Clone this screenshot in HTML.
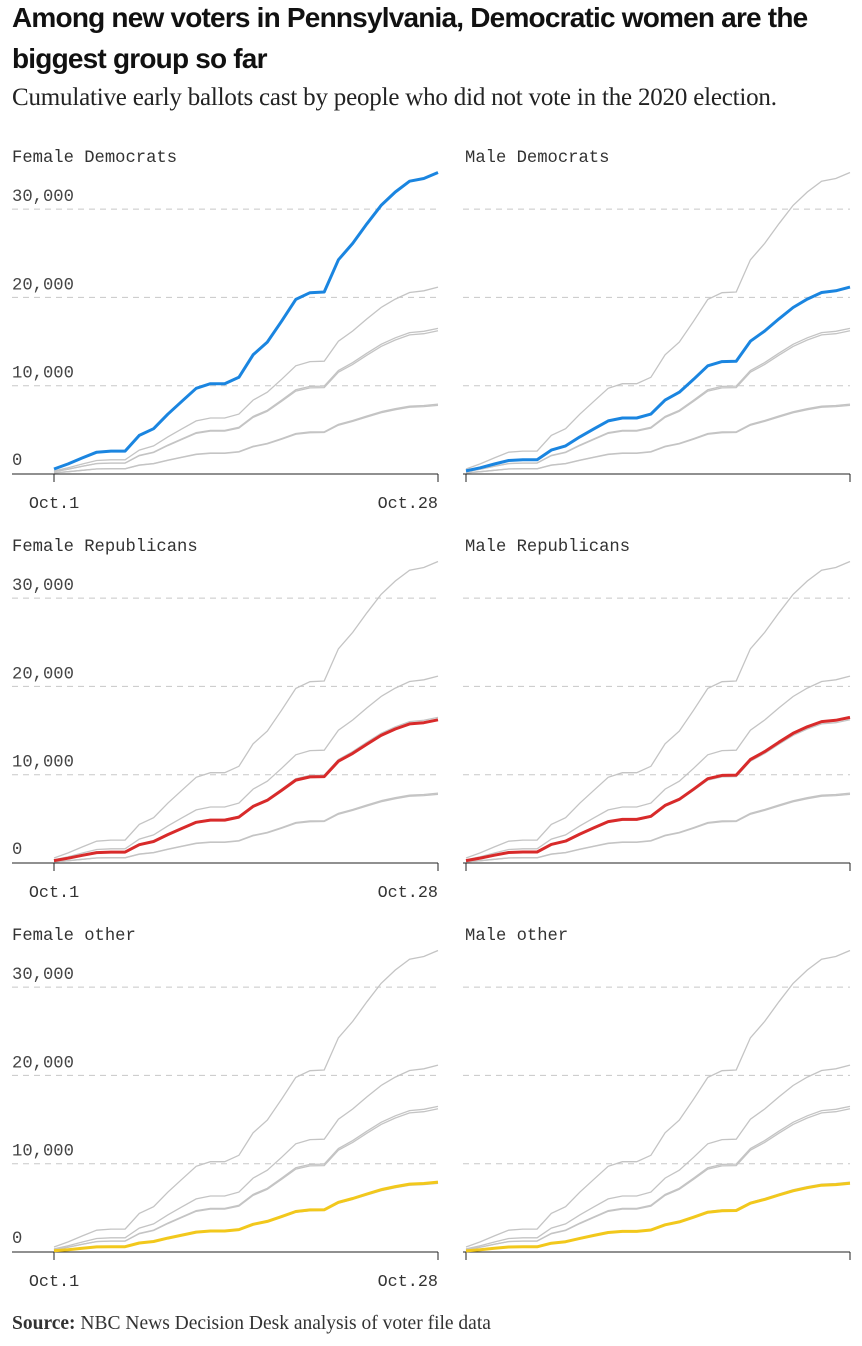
<!DOCTYPE html>
<html><head><meta charset="utf-8"><style>
body{margin:0;background:#fff;width:862px;height:1346px;overflow:hidden;position:relative}
.t{position:absolute;left:12px;top:-3px;font:bold 28px/41px "Liberation Sans",sans-serif;letter-spacing:-0.8px;color:#111;width:850px}
.s{position:absolute;left:12px;top:84px;font:25px "Liberation Serif",serif;color:#222;letter-spacing:-0.2px;white-space:nowrap}
.src{position:absolute;left:12px;top:1313px;font:19.5px "Liberation Serif",serif;color:#333}
svg{position:absolute;left:0;top:0}
</style></head><body>
<div class="t">Among new voters in Pennsylvania, Democratic women are the<br>biggest group so far</div>
<div class="s">Cumulative early ballots cast by people who did not vote in the 2020 election.</div>
<svg id="c" width="862" height="1346" xmlns="http://www.w3.org/2000/svg"></svg>
<div class="src"><b>Source:</b> NBC News Decision Desk analysis of voter file data</div>
<script>
var base=[570,1140,1825,2470,2590,2590,4370,5130,6770,8250,9700,10230,10230,10950,13500,14940,17300,19770,20530,20610,24260,26120,28330,30420,31940,33160,33460,34140];
var sc=[1,0.62,0.475,0.483,0.232,0.228];
var names=["Female Democrats","Male Democrats","Female Republicans","Male Republicans","Female other","Male other"];
var cols=["#1a85e0","#1a85e0","#d82a2a","#d82a2a","#f2c81c","#f2c81c"];
var s="";
for(var p=0;p<6;p++){
 var ox=(p%2)*412, oy=Math.floor(p/2)*389;
 var x0=54+ox,x1=438+ox,y0=474+oy,k=88.3/10000;
 var gx=(p%2)?463:12;
 s+='<text x="'+(p%2?465:12)+'" y="'+(162+oy)+'" font-family="Liberation Mono,monospace" font-size="17.2" fill="#333">'+names[p]+'</text>';
 for(var g=1;g<=3;g++){var yy=y0-g*88.3;
  s+='<line x1="'+gx+'" x2="'+x1+'" y1="'+yy+'" y2="'+yy+'" stroke="#c8c8c8" stroke-dasharray="6,5"/>';}
 if(p%2==0){for(var g=0;g<=3;g++){var yy=y0-g*88.3-8;
  s+='<text x="12" y="'+(g==0?yy-1:yy)+'" font-family="Liberation Mono,monospace" font-size="17.2" fill="#444">'+(g==0?"0":g*10+",000")+'</text>';}}
 s+='<line x1="'+gx+'" x2="'+x1+'" y1="'+y0+'" y2="'+y0+'" stroke="#222" stroke-width="1"/>';
 s+='<line x1="'+x0+'" x2="'+x0+'" y1="'+y0+'" y2="'+(y0+8)+'" stroke="#222"/>';
 s+='<line x1="'+x1+'" x2="'+x1+'" y1="'+y0+'" y2="'+(y0+8)+'" stroke="#222"/>';
 if(p%2==0){
 s+='<text x="'+x0+'" y="'+(y0+34)+'" text-anchor="middle" font-family="Liberation Mono,monospace" font-size="16.8" fill="#333">Oct.1</text>';
 s+='<text x="'+x1+'" y="'+(y0+34)+'" text-anchor="end" font-family="Liberation Mono,monospace" font-size="16.8" fill="#333">Oct.28</text>';}
 var order=[];for(var q=0;q<6;q++)if(q!=p)order.push(q);order.push(p);
 order.forEach(function(q){
  var pts=base.map(function(v,i){return (x0+i*(x1-x0)/27).toFixed(1)+','+(y0-v*sc[q]*k).toFixed(1)}).join(' ');
  if(q==p)s+='<polyline points="'+pts+'" fill="none" stroke="'+cols[q]+'" stroke-width="3" stroke-linejoin="round"/>';
  else s+='<polyline points="'+pts+'" fill="none" stroke="#c4c4c4" stroke-width="1.3"/>';
 });
}
document.getElementById("c").innerHTML=s;
</script>
</body></html>
